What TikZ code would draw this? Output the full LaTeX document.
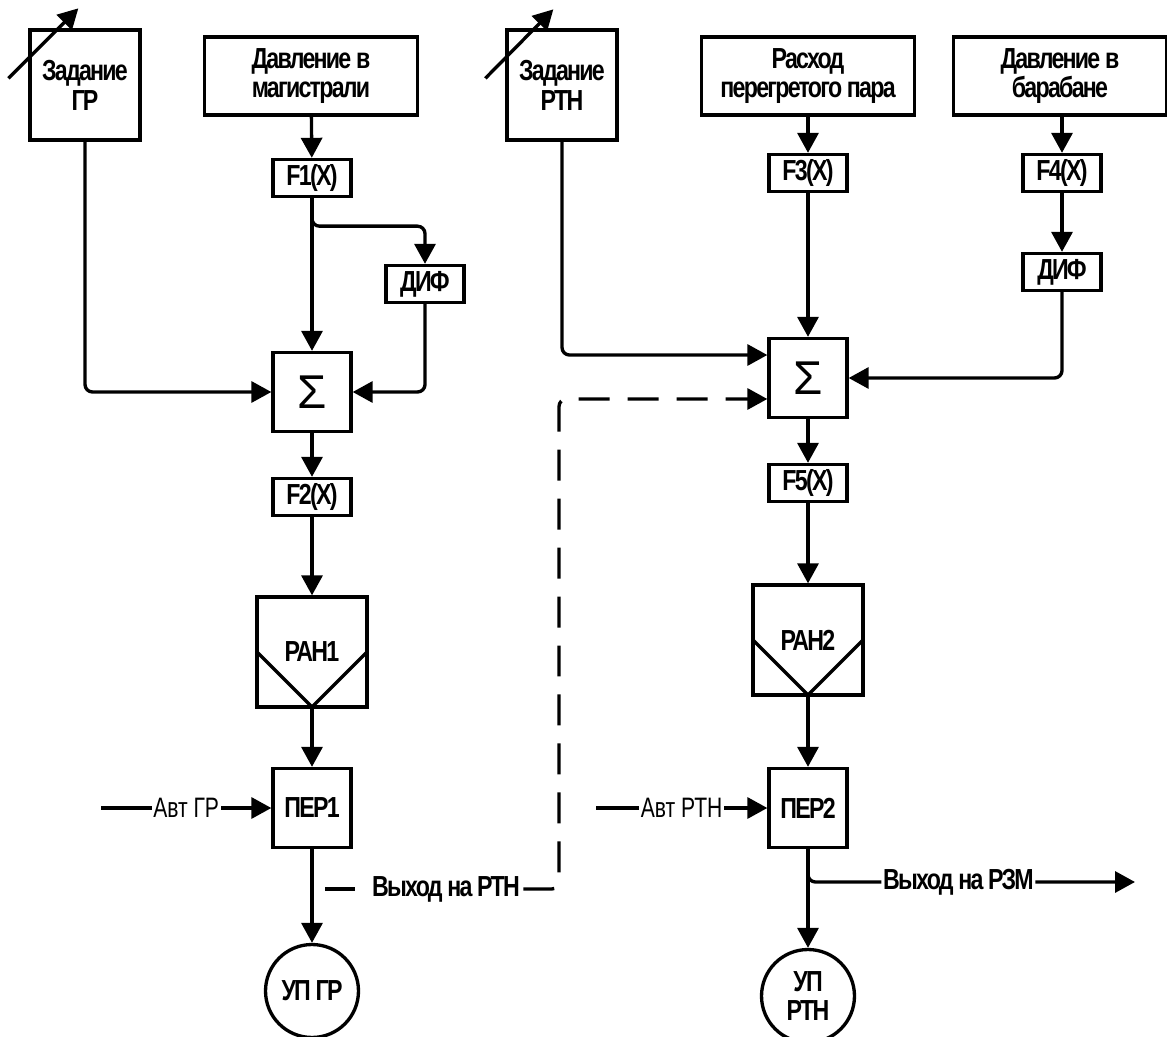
\documentclass[tikz,border=0pt]{standalone}
\usepackage{fontspec}
\setmainfont{Liberation Sans}
\newfontfamily\lblfont[FakeStretch=0.8,LetterSpace=-6]{Liberation Sans}
\newfontfamily\thinfont[FakeStretch=0.75]{Liberation Sans}
\usetikzlibrary{arrows.meta,positioning,shapes}

\begin{document}
\begin{tikzpicture}[x=0.02cm, y=-0.02cm,
  line width=1.9pt,
  >={Triangle[length=0.4cm,width=0.42cm]},
  rectnode/.style={draw, rectangle, inner sep=0pt, align=center,
    font={\lblfont\bfseries\fontsize{16.5}{17}\selectfont}},
  srcnode/.style={rectnode, minimum width=4.26cm, minimum height=1.56cm},
  zadnode/.style={rectnode, minimum width=2.2cm, minimum height=2.2cm},
  fnode/.style={rectnode, minimum width=1.56cm, minimum height=0.74cm},
  sumnode/.style={rectnode, minimum width=1.56cm, minimum height=1.58cm,
    font={\fontsize{27}{27}\selectfont}},
  pernode/.style={rectnode, minimum width=1.56cm, minimum height=1.58cm},
  rannode/.style={rectnode, minimum width=2.2cm, minimum height=2.2cm,
    path picture={\draw (path picture bounding box.west) -- (path picture bounding box.south)
      -- (path picture bounding box.east);}},
  upnode/.style={draw, circle, inner sep=0pt, minimum size=1.86cm, align=center,
    font={\lblfont\bfseries\fontsize{16.5}{17}\selectfont}},
  lbl/.style={inner sep=1pt, fill=white, font={\lblfont\bfseries\fontsize{16.5}{17}\selectfont}},
  thinlbl/.style={inner sep=1pt, fill=white, font={\thinfont\fontsize{16}{17}\selectfont}},
  dline/.style={dash pattern=on 0.62cm off 0.36cm}
  ]
  \useasboundingbox (0,0) rectangle (1167,1037);

  % Nodes
  \node[zadnode] (zad1) at (85,85) {Задание\\ГР};
  \node[srcnode] (src1) at (311,76) {Давление в\\магистрали};
  \node[fnode] (f1) at (312,178) {F1(X)};
  \node[fnode] (dif1) at (425,284) {ДИФ};
  \node[sumnode] (sum1) at (312,392) {Σ};
  \node[fnode] (f2) at (312,497) {F2(X)};
  \node[rannode] (ran1) at (312,652) {РАН1};
  \node[pernode] (per1) at (312,808) {ПЕР1};
  \node[upnode] (up1) at (312,991) {УП ГР};

  \node[zadnode] (zad2) at (562,85) {Задание\\РТН};
  \node[srcnode] (src2) at (808,76) {Расход\\перегретого пара};
  \node[srcnode] (src3) at (1060,76) {Давление в\\барабане};
  \node[fnode] (f3) at (808,173) {F3(X)};
  \node[fnode] (f4) at (1062,173) {F4(X)};
  \node[fnode] (dif2) at (1062,272) {ДИФ};
  \node[sumnode] (sum2) at (808,378) {Σ};
  \node[fnode] (f5) at (808,483) {F5(X)};
  \node[rannode] (ran2) at (808,640) {РАН2};
  \node[pernode] (per2) at (808,808) {ПЕР2};
  \node[upnode] (up2) at (808,996) {УП\\РТН};

  \coordinate (avt1) at (101,808);
  \coordinate (avt2) at (596,808);
  \coordinate (br1) at (312,889);
  \coordinate (rzm) at (1135,882);
  \node[lbl] (out1) at (446,889) {Выход на РТН};

  % left chain
  \draw[->] (zad1.north west) ++(-20,50) -- ++(70,-70);
  \draw[->] (src1) -- (f1);
  \draw[->] (f1) -- (sum1);
  \draw[->, rounded corners=0.15cm] (f1.south) -- ++(0,28) -| (dif1.north);
  \draw[->, rounded corners=0.15cm] (dif1.south) |- (sum1.east);
  \draw[->, rounded corners=0.15cm] (zad1.south) |- (sum1.west);
  \draw[->] (sum1) -- (f2);
  \draw[->] (f2) -- (ran1);
  \draw[->] (ran1) -- (per1);
  \draw[->] (avt1) -- node[thinlbl]{Авт ГР} (per1.west);
  \draw[->] (per1) -- (up1);
  \draw[dash pattern=on 0pt off 0.26cm on 0.6cm off 2cm] (br1) -- (out1.west);
  \draw[dline, ->, rounded corners=0.15cm] (out1.east) -- (559,889) |- ([yshift=-0.42cm]sum2.west);

  % right chain
  \draw[->] (zad2.north west) ++(-20,50) -- ++(68,-69);
  \draw[->] (src2) -- (f3);
  \draw[->] (f3) -- (sum2);
  \draw[->] (src3.south -| f4) -- (f4);
  \draw[->] (f4) -- (dif2);
  \draw[->, rounded corners=0.15cm] (dif2.south) |- (sum2.east);
  \draw[->, rounded corners=0.15cm] (zad2.south) |- ([yshift=0.46cm]sum2.west);
  \draw[->] (sum2) -- (f5);
  \draw[->] (f5) -- (ran2);
  \draw[->] (ran2) -- (per2);
  \draw[->] (avt2) -- node[thinlbl]{Авт РТН} (per2.west);
  \draw[->] (per2) -- (up2);
  \draw[->, rounded corners=0.15cm] (per2.south) |- node[lbl, pos=0.73]{Выход на РЗМ} (rzm);

\end{tikzpicture}
\end{document}
